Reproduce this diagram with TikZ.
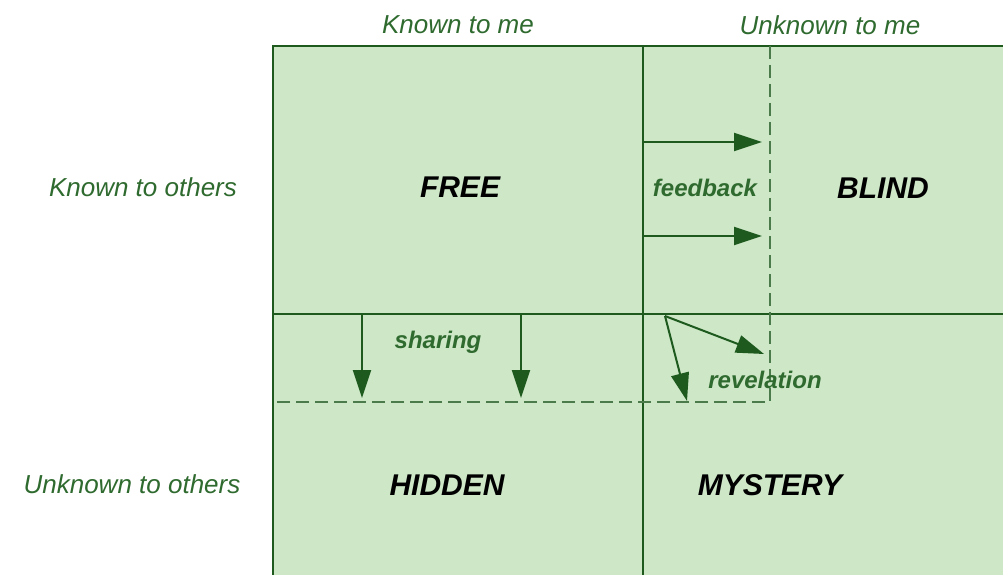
\documentclass[tikz,border=0pt]{standalone}
\usepackage{fontspec}
\setmainfont{Liberation Sans}
\usetikzlibrary{arrows.meta}
\definecolor{paneFill}{HTML}{CDE7C7}
\definecolor{gridLine}{HTML}{1E5A1E}
\definecolor{labelGreen}{HTML}{2F6A2F}
\tikzset{
  gridline/.style={draw=gridLine, line width=1.6pt},
  dashline/.style={draw=gridLine!80, line width=1.2pt, dash pattern=on 13pt off 6pt},
  flow/.style={draw=gridLine, line width=2pt, -{Triangle[length=28pt,width=18pt]}},
  axislabel/.style={text=labelGreen, font=\fontsize{26}{30}\selectfont\itshape},
  smalllabel/.style={text=labelGreen, font=\fontsize{24}{28}\selectfont\itshape\bfseries},
  panelabel/.style={text=black, font=\fontsize{30}{34}\selectfont\itshape\bfseries}
}
\begin{document}
\begin{tikzpicture}[x=1pt,y=-1pt]
  \useasboundingbox (0,0) rectangle (1003,575);
  \fill[white] (0,0) rectangle (1003,575);

  % window panes
  \fill[paneFill] (273,46) rectangle (1003,575);
  \draw[gridline] (1003,46) -- (273,46) -- (273,575);
  \draw[gridline] (643,46) -- (643,575);
  \draw[gridline] (273,314) -- (1003,314);

  % enlarged open area
  \draw[dashline] (770,46) -- (770,402) -- (273,402);

  % axis labels
  \node[axislabel] (kme) at (458,25) {Known to me};
  \node[axislabel] (ume) at (830,25) {Unknown to me};
  \node[axislabel] (koth) at (143,187) {Known to others};
  \node[axislabel] (uoth) at (132,484) {Unknown to others};

  % pane names
  \node[panelabel] (free) at (460,187) {FREE};
  \node[panelabel] (blind) at (883,188) {BLIND};
  \node[panelabel] (hidden) at (447,485) {HIDDEN};
  \node[panelabel] (mystery) at (770,485) {MYSTERY};

  % process labels
  \node[smalllabel] (fb) at (705,188) {feedback};
  \node[smalllabel] (sh) at (438,342) {sharing};
  \node[smalllabel] (rv) at (765,380) {revelation};

  % arrow anchors
  \coordinate (fbA1) at (643,142);  \coordinate (fbB1) at (762,142);
  \coordinate (fbA2) at (643,236);  \coordinate (fbB2) at (762,236);
  \coordinate (shA1) at (362,314);  \coordinate (shB1) at (362,398);
  \coordinate (shA2) at (521,314);  \coordinate (shB2) at (521,398);
  \coordinate (rvA) at (665,316);
  \coordinate (rvB1) at (764,354);
  \coordinate (rvB2) at (687,401);

  \draw[flow] (fbA1) -- (fbB1);
  \draw[flow] (fbA2) -- (fbB2);
  \draw[flow] (shA1) -- (shB1);
  \draw[flow] (shA2) -- (shB2);
  \draw[flow] (rvA) -- (rvB1);
  \draw[flow] (rvA) -- (rvB2);
\end{tikzpicture}
\end{document}
